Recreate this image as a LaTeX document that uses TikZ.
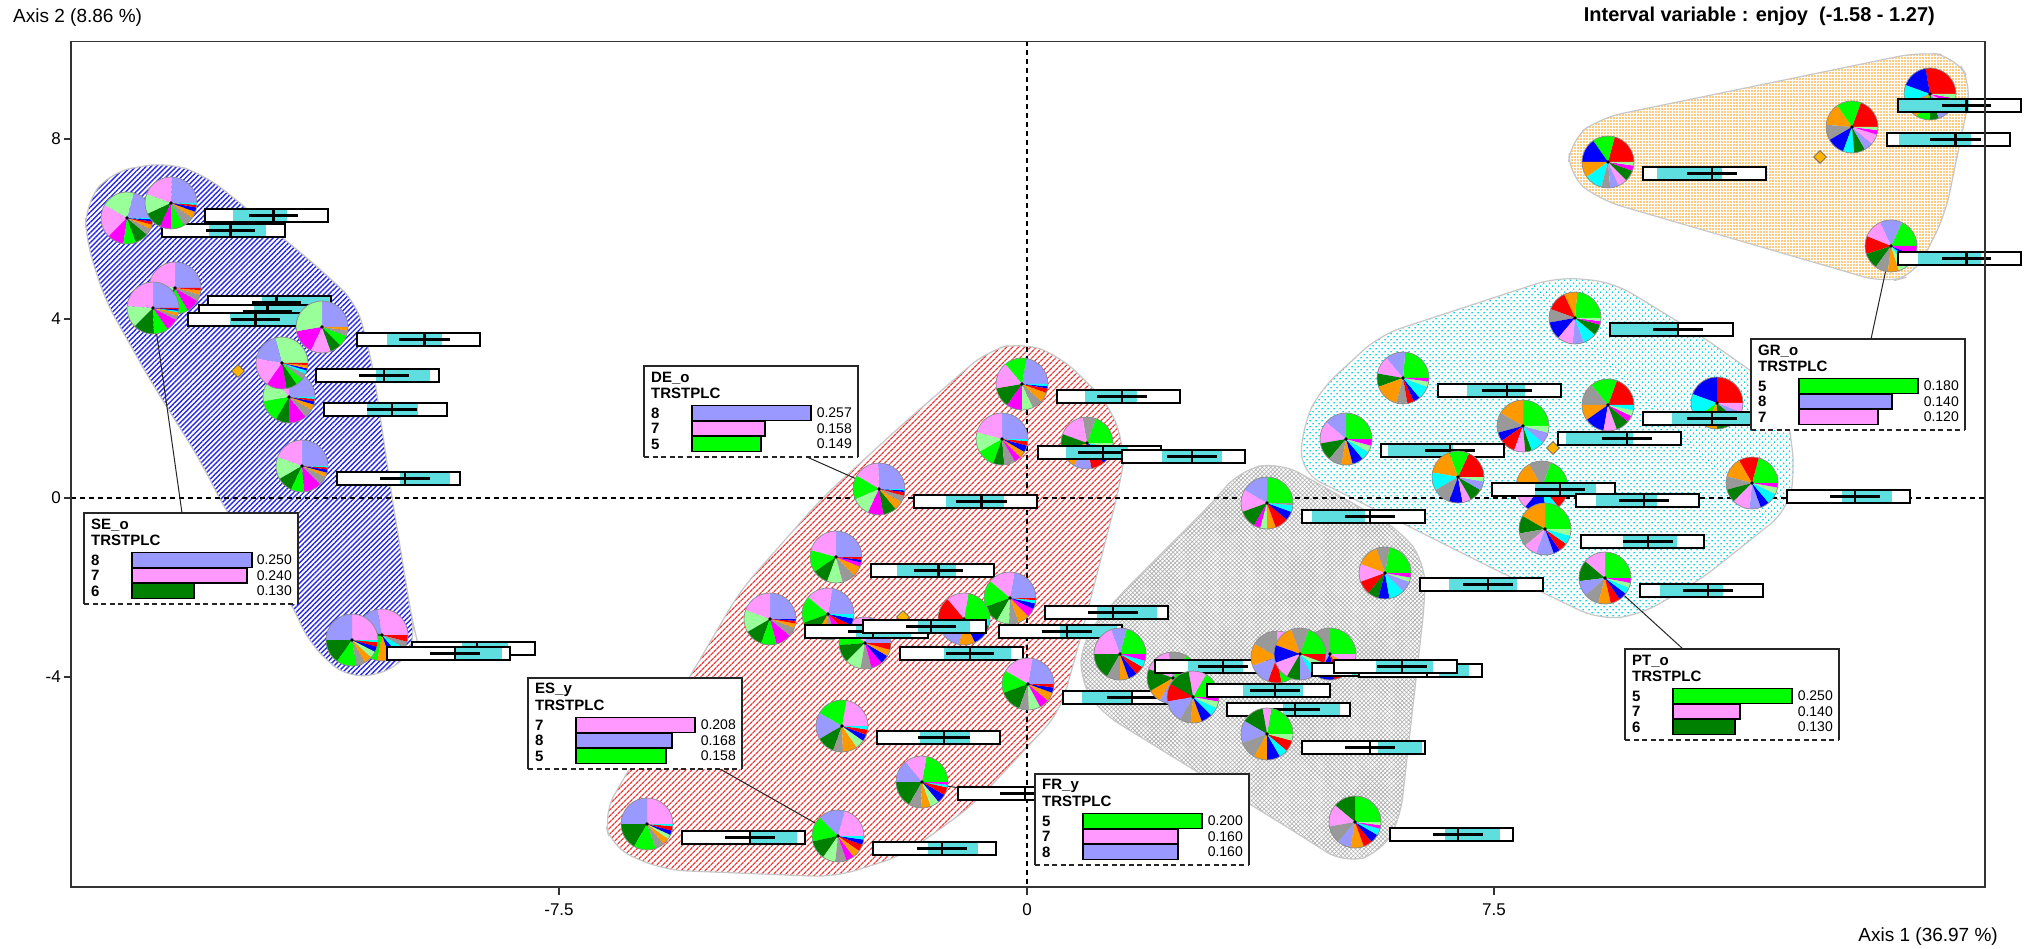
\documentclass[tikz,border=0pt]{standalone}
\usepackage{fontspec}
\setmainfont{Liberation Sans}
\usetikzlibrary{patterns.meta,shapes.geometric}
\definecolor{pw}{RGB}{153,153,255}
\definecolor{pk}{RGB}{255,153,255}
\definecolor{lg}{RGB}{153,255,153}
\definecolor{gn}{RGB}{0,255,0}
\definecolor{dg}{RGB}{0,128,0}
\definecolor{mg}{RGB}{255,0,255}
\definecolor{gy}{RGB}{153,153,153}
\definecolor{or}{RGB}{255,153,0}
\definecolor{rd}{RGB}{255,0,0}
\definecolor{bl}{RGB}{0,0,255}
\definecolor{cy}{RGB}{0,255,255}
\definecolor{icyan}{RGB}{94,222,222}
\definecolor{diamc}{RGB}{255,180,0}
\definecolor{hatchblue}{RGB}{40,40,230}
\definecolor{hatchred}{RGB}{240,50,50}
\definecolor{hatchcyan}{RGB}{0,215,230}
\definecolor{hatchor}{RGB}{255,150,0}

\tikzset{
  pieedge/.style={draw=black!45, line width=0.7},
  hullline/.style={draw=black!22, line width=1.2, rounded corners=22},
  boxline/.style={draw=black!85, line width=1.4},
  leader/.style={draw=black!85, line width=1},
  axisdash/.style={draw=black, line width=1.2, dash pattern=on 5pt off 4pt},
  lbtitle/.style={inner sep=0, font=\fontsize{15}{15}\bfseries},
  lbval/.style={inner sep=0, font=\fontsize{14}{14}\selectfont},
  ticklab/.style={inner sep=0, font=\fontsize{17}{17}\selectfont},
  diam/.style={diamond, draw=black!60, fill=diamc, minimum width=13, minimum height=13, inner sep=0, line width=0.8},
}

\newcommand\mypie[2]{%
  \gdef\curang{0}%
  \foreach \c/\e in {#2}{%
    \fill[fill=\c] (#1) -- ++(-\curang:26) arc[start angle=-\curang, end angle=-\e, radius=26] -- cycle;
    \xdef\curang{\e}%
  }%
  \draw[pieedge] (#1) circle[radius=26];
  \fill[black] (#1) circle[radius=1.8];
}

\newcommand\intbox[5]{%
  \begin{scope}[shift={(#1)}]
    \fill[white] (0,0) rectangle (123,13);
    \fill[icyan] (#2,0) rectangle (#3,13);
    \draw[line width=2.4] (#4,6.5) -- (#5,6.5);
    \draw[line width=2.4] ({(#4+#5)/2},-1) -- ({(#4+#5)/2},14);
    \draw[line width=1.4] (0,0) rectangle (123,13);
  \end{scope}}

\newcommand\lblbox[4]{%
  \begin{scope}[shift={(#2)}]
    \fill[white] (0,0) rectangle (214,91);
    \draw[boxline] (0,91) -- (0,0) -- (214,0) -- (214,91);
    \draw[boxline, dash pattern=on 5pt off 3.5pt] (0,91) -- (214,91);
    \node[lbtitle, anchor=west] (#1n) at (7,12) {#3};
    \node[lbtitle, anchor=west] (#1v) at (7,27) {TRSTPLC};
    \foreach \d/\c/\v/\l [count=\i] in {#4}{
      \node[lbtitle, anchor=west] (#1d\i) at (7,31.5+15.5*\i) {\d};
      \draw[line width=1.3, fill=\c] (48,24+15.5*\i) rectangle ++(\l,15);
      \node[lbval, anchor=east] (#1p\i) at (208,31.5+15.5*\i) {\v};
    }
  \end{scope}}

\begin{document}
\begin{tikzpicture}[x=1pt,y=-1pt]
\useasboundingbox (0,0) rectangle (2035,949);
\fill[white] (0,0) rectangle (2035,949);

% ---------- hulls ----------
\draw[hullline, pattern={Lines[angle=45,distance=3.6pt,line width=1.4pt]}, pattern color=hatchblue]
 (85,205) -- (110,172) -- (167,162) -- (205,175) -- (245,207) -- (312,262) -- (357,303) -- (373,367) -- (392,497) -- (412,620) -- (417,640) -- (400,668) -- (350,680) -- (310,645) -- (290,600) -- (227,513) -- (200,460) -- (150,380) -- (105,300) -- (86,240) -- cycle;
\draw[hullline, pattern={Lines[angle=45,distance=4pt,line width=1.3pt]}, pattern color=hatchred]
 (1021,342) -- (1060,356) -- (1110,405) -- (1125,450) -- (1120,485) -- (1080,640) -- (1060,712) -- (973,805) -- (904,855) -- (835,877) -- (664,870) -- (612,848) -- (603,815) -- (629,769) -- (688,680) -- (740,591) -- (822,498) -- (904,423) -- (987,351) -- cycle;
\draw[hullline, pattern={Hatch[angle=45,distance=3pt,line width=0.6pt]}, pattern color=black!32]
 (1240,470) -- (1280,462) -- (1400,530) -- (1425,562) -- (1425,600) -- (1400,820) -- (1382,852) -- (1345,864) -- (1300,835) -- (1100,712) -- (1080,682) -- (1082,640) -- (1117,598) -- (1215,500) -- cycle;
\draw[hullline, pattern={Dots[distance=4pt,angle=45,radius=1pt]}, pattern color=hatchcyan]
 (1557,277) -- (1613,282) -- (1700,335) -- (1785,395) -- (1795,470) -- (1788,510) -- (1700,580) -- (1640,615) -- (1600,620) -- (1500,572) -- (1420,532) -- (1300,472) -- (1303,425) -- (1320,390) -- (1380,335) -- cycle;
\draw[hullline, pattern={Dots[distance=3pt,radius=0.9pt]}, pattern color=hatchor]
 (1570,140) -- (1600,118) -- (1920,52) -- (1955,56) -- (1972,85) -- (1945,215) -- (1915,275) -- (1885,283) -- (1600,200) -- (1568,175) -- cycle;

% ---------- axes ----------
\coordinate (ytop) at (1027,41.5);
\coordinate (ybot) at (1027,887);
\coordinate (xl) at (71,498);
\coordinate (xr) at (1985,498);
\draw[axisdash] (ytop) -- (ybot);
\draw[axisdash] (xl) -- (xr);

% ---------- point coordinates ----------
\coordinate (B1) at (127,218); \coordinate (B2) at (171,203); \coordinate (B4) at (175,288);
\coordinate (B3) at (153,308); \coordinate (B5) at (322,327); \coordinate (B6) at (282,363);
\coordinate (B7) at (289,397); \coordinate (B8) at (302,466); \coordinate (B10) at (382,635);
\coordinate (B9) at (352,640);
\coordinate (R1) at (879,489); \coordinate (R2) at (1022,384); \coordinate (R3) at (1002,439);
\coordinate (R4) at (1087,443); \coordinate (R5) at (836,557); \coordinate (R6) at (770,619);
\coordinate (R7) at (828,614); \coordinate (R8) at (865,643); \coordinate (R9) at (964,619);
\coordinate (R10) at (1010,598); \coordinate (R11) at (1028,684); \coordinate (R12) at (842,726);
\coordinate (R13) at (922,782); \coordinate (R14) at (647,824); \coordinate (R15) at (838,836);
\coordinate (G1) at (1267,503); \coordinate (G2) at (1385,573); \coordinate (G3) at (1120,654);
\coordinate (G4) at (1173,678); \coordinate (G5) at (1193,697); \coordinate (G6a) at (1277,657);
\coordinate (G6b) at (1300,654); \coordinate (G6c) at (1330,654); \coordinate (G7) at (1267,734);
\coordinate (G8) at (1355,822);
\coordinate (C1) at (1575,318); \coordinate (C2) at (1403,378); \coordinate (C3) at (1608,405);
\coordinate (C4) at (1523,426); \coordinate (C5) at (1717,403); \coordinate (C6) at (1346,439);
\coordinate (C7) at (1458,477); \coordinate (C8) at (1542,487); \coordinate (C9) at (1752,483);
\coordinate (C10) at (1545,529); \coordinate (C11) at (1605,578);
\coordinate (O1) at (1930,94); \coordinate (O2) at (1852,127); \coordinate (O3) at (1608,162);
\coordinate (O4) at (1891,246);

% ---------- leader lines ----------
\coordinate (SEa) at (182,513);
\coordinate (DEa) at (807,457);
\coordinate (ESa) at (720,769);
\coordinate (FRa) at (1035,800);
\coordinate (GRa) at (1871,339);
\coordinate (PTa) at (1683,649);
\draw[leader] (SEa) -- (B3);
\draw[leader] (DEa) -- (R1);
\draw[leader] (ESa) -- (R15);
\draw[leader] (FRa) -- (R13);
\draw[leader] (GRa) -- (O4);
\draw[leader] (PTa) -- (C11);

% ---------- centroids ----------
\node[diam] (DB) at (238,371) {};
\node[diam] (DR) at (903,617) {};
\node[diam] (DG) at (1267,658) {};
\node[diam] (DC) at (1553,448) {};
\node[diam] (DO) at (1820,157) {};

% ---------- blue group ----------
\mypie{B1}{pw/75,lg/150,pk/225,mg/262,gn/290,dg/320,gy/335,or/345,rd/352,bl/357,cy/360}
\intbox{162,224}{47}{104}{44}{93}
\mypie{B2}{pw/88,pk/160,lg/205,dg/245,mg/270,gn/300,gy/325,or/340,bl/350,rd/356,cy/360}
\intbox{205,209}{28}{82}{44}{93}
\mypie{B4}{pw/90,pk/170,lg/220,dg/260,gn/300,mg/330,gy/345,or/355,rd/360}
\intbox{208,296}{54}{122}{44}{93}
\intbox{199,305}{55}{120}{44}{93}
\mypie{B3}{pw/90,pk/176,lg/225,dg/272,gn/305,mg/333,gy/342,or/350,cy/354,bl/357,rd/360}
\intbox{188,313}{42}{120}{43}{92}
\mypie{B5}{pw/90,lg/190,mg/245,pk/290,dg/315,gn/340,gy/352,or/360}
\intbox{357,333}{30}{85}{42}{93}
\mypie{B7}{pw/88,pk/130,lg/190,gn/240,dg/270,mg/310,gy/330,or/343,bl/350,rd/356,cy/360}
\mypie{B6}{lg/105,pw/170,pk/235,mg/280,dg/305,gn/322,gy/335,cy/343,bl/348,or/355,rd/360}
\intbox{316,369}{60}{114}{43}{93}
\intbox{324,403}{43}{94}{43}{93}
\mypie{B8}{pw/90,pk/160,lg/210,dg/245,gn/275,mg/315,gy/335,or/345,bl/352,rd/357,cy/360}
\intbox{337,472}{63}{113}{43}{93}
\mypie{B10}{pk/100,pw/160,dg/200,gn/260,or/290,bl/310,cy/330,gy/345,rd/360}
\intbox{412,642}{50}{96}{40}{90}
\mypie{B9}{pk/90,pw/180,dg/235,gn/280,gy/300,or/318,lg/333,bl/345,rd/355,cy/360}
\intbox{387,647}{68}{115}{43}{93}

% ---------- red group ----------
\mypie{R2}{pw/80,gn/130,pk/190,dg/235,mg/270,lg/295,gy/318,or/340,rd/350,bl/355,cy/360}
\intbox{1057,390}{28}{80}{40}{90}
\mypie{R3}{pw/90,pk/165,lg/210,gn/250,dg/275,gy/300,mg/315,or/330,bl/345,rd/355,cy/360}
\mypie{R4}{gn/70,gy/100,pk/160,dg/200,or/240,pw/280,rd/310,bl/335,cy/350,lg/360}
\intbox{1038,446}{28}{90}{40}{90}
\intbox{1122,450}{40}{100}{45}{95}
\mypie{R1}{pw/92,pk/149,gn/203,lg/245,mg/280,dg/310,or/330,gy/345,rd/353,bl/357,cy/360}
\intbox{914,495}{32}{90}{42}{93}
\mypie{R5}{pw/90,pk/165,gn/215,dg/250,lg/285,gy/315,or/338,mg/348,bl/354,rd/360}
\intbox{871,564}{26}{85}{43}{92}
\mypie{R10}{pw/80,pk/140,gn/200,dg/240,lg/268,gy/290,or/315,mg/335,bl/348,cy/355,rd/360}
\intbox{1045,606}{52}{112}{43}{93}
\mypie{R6}{pw/90,pk/160,lg/210,dg/250,gn/285,mg/320,gy/340,or/350,rd/356,bl/360}
\mypie{R8}{pw/80,pk/140,gn/185,dg/225,lg/260,gy/285,mg/310,bl/330,or/345,rd/360}
\mypie{R7}{pw/80,pk/140,gn/200,dg/240,or/262,gy/290,mg/315,rd/335,bl/350,cy/360}
\intbox{805,625}{51}{106}{43}{93}
\mypie{R9}{gn/80,pk/130,rd/190,gy/210,pw/260,or/295,bl/325,dg/345,cy/360}
\intbox{863,620}{55}{107}{43}{93}
\intbox{999,625}{61}{118}{43}{93}
\intbox{900,647}{44}{111}{46}{94}
\mypie{R11}{pw/80,pk/150,gn/200,dg/250,gy/272,lg/298,mg/320,or/340,bl/352,rd/360}
\intbox{1063,691}{19}{70}{44}{94}
\mypie{R12}{pk/80,gn/150,pw/210,dg/250,gy/272,or/305,lg/325,bl/340,rd/352,cy/360}
\intbox{877,731}{43}{93}{41}{93}
\mypie{R13}{gn/80,pk/130,pw/180,dg/240,gy/268,or/290,lg/310,bl/330,rd/348,cy/354,mg/360}
\intbox{958,787}{80}{123}{42}{92}
\mypie{R14}{pk/90,pw/180,dg/240,gn/290,gy/310,or/325,lg/335,bl/345,rd/355,cy/360}
\intbox{682,831}{68}{115}{43}{93}
\mypie{R15}{pk/75,pw/135,gn/192,dg/235,lg/264,gy/289,mg/307,or/325,rd/340,bl/352,cy/360}
\intbox{873,842}{55}{105}{44}{94}

% ---------- grey group ----------
\mypie{G1}{gn/90,pw/150,pk/200,dg/240,mg/255,lg/270,or/290,rd/320,bl/340,cy/355,gy/360}
\intbox{1302,510}{10}{63}{43}{93}
\mypie{G2}{gn/80,gy/110,or/160,pk/200,rd/230,dg/255,bl/280,cy/315,pw/340,lg/350,mg/360}
\intbox{1420,578}{29}{97}{43}{93}
\mypie{G3}{gn/75,pw/110,pk/180,dg/240,gy/270,or/290,bl/310,rd/330,cy/345,mg/360}
\mypie{G4}{gn/60,gy/100,pk/160,dg/210,or/240,pw/290,bl/320,cy/340,rd/360}
\intbox{1155,660}{33}{88}{43}{93}
\mypie{G5}{gn/60,pk/100,dg/150,rd/190,pw/240,gy/265,or/290,bl/315,cy/335,lg/350,mg/360}
\intbox{1207,684}{36}{96}{43}{93}
\intbox{1227,703}{56}{113}{43}{93}
\mypie{G6a}{pk/90,gy/150,or/200,pw/250,rd/280,gn/360}
\mypie{G6c}{gn/90,gy/150,pw/240,bl/280,rd/300,or/330,pk/360}
\mypie{G6b}{gn/70,gy/110,or/160,bl/200,pk/240,dg/270,pw/300,cy/320,lg/340,rd/360}
\intbox{1312,663}{40}{100}{43}{93}
\intbox{1359,664}{80}{110}{43}{93}
\intbox{1334,660}{42}{99}{43}{93}
\mypie{G7}{gn/80,pk/100,dg/150,pw/200,gy/240,or/270,bl/300,cy/320,rd/345,lg/360}
\intbox{1302,741}{76}{120}{43}{93}
\mypie{G8}{gn/90,dg/140,pk/190,gy/230,pw/260,or/290,rd/310,bl/330,cy/345,mg/353,lg/360}
\intbox{1390,828}{55}{110}{43}{93}

% ---------- cyan group ----------
\mypie{C1}{gn/85,or/115,rd/160,gy/190,bl/230,pk/265,pw/290,cy/320,dg/345,mg/353,lg/360}
\intbox{1610,323}{0}{67}{43}{93}
\mypie{C2}{gn/85,pw/130,pk/170,dg/200,or/255,gy/280,rd/295,bl/310,cy/340,lg/352,mg/360}
\intbox{1438,384}{29}{87}{44}{94}
\mypie{C5}{rd/90,bl/160,cy/215,gn/240,or/270,dg/320,pw/340,pk/360}
\mypie{C3}{rd/70,gn/130,gy/180,or/215,bl/260,pk/290,dg/320,mg/335,lg/348,cy/360}
\intbox{1643,412}{29}{115}{44}{94}
\mypie{C4}{gn/90,or/150,gy/195,bl/215,rd/250,pk/275,dg/290,cy/320,pw/345,lg/360}
\intbox{1558,432}{8}{75}{44}{94}
\mypie{C6}{gn/90,pw/140,pk/190,dg/230,gy/260,or/285,bl/310,cy/330,lg/345,mg/360}
\intbox{1381,444}{7}{72}{44}{94}
\mypie{C7}{rd/65,gn/110,or/170,cy/210,gy/250,bl/280,pk/300,dg/330,pw/350,lg/360}
\mypie{C8}{gn/70,gy/120,or/170,pk/230,bl/280,cy/310,rd/340,pw/360}
\intbox{1492,483}{43}{104}{43}{93}
\intbox{1576,494}{20}{81}{43}{93}
\mypie{C9}{gn/75,rd/120,or/165,gy/195,dg/225,pk/265,pw/290,bl/310,cy/335,lg/350,mg/360}
\intbox{1787,490}{55}{105}{43}{93}
\mypie{C10}{gn/90,or/150,dg/190,gy/220,pk/250,pw/290,bl/305,rd/325,cy/345,lg/360}
\intbox{1581,535}{42}{96}{42}{92}
\mypie{C11}{gn/90,pk/140,dg/187,pw/222,gy/255,or/283,rd/305,bl/323,cy/338,lg/349,mg/360}
\intbox{1640,584}{20}{83}{43}{93}

% ---------- orange group ----------
\mypie{O1}{rd/100,bl/160,cy/200,gy/215,or/240,gn/270,dg/290,pw/315,pk/335,mg/350,lg/360}
\intbox{1898,99}{0}{71}{44}{93}
\mypie{O2}{rd/70,gn/125,or/175,gy/210,bl/250,cy/275,dg/300,pw/320,pk/343,mg/353,lg/360}
\intbox{1887,133}{12}{84}{43}{94}
\mypie{O3}{rd/75,gn/125,bl/180,or/215,cy/255,gy/275,pw/295,pk/315,dg/340,mg/352,lg/360}
\intbox{1643,167}{14}{79}{44}{94}
\mypie{O4}{gn/65,pw/115,pk/158,rd/198,dg/234,gy/263,or/288,lg/306,cy/324,bl/338,mg/360}
\intbox{1898,252}{20}{83}{44}{93}

% ---------- label boxes ----------
\lblbox{SE}{84,513}{SE\_o}{8/pw/0.250/120, 7/pk/0.240/115, 6/dg/0.130/62}
\lblbox{DE}{644,366}{DE\_o}{8/pw/0.257/119, 7/pk/0.158/73, 5/gn/0.149/69}
\lblbox{ES}{528,678}{ES\_y}{7/pk/0.208/119, 8/pw/0.168/96, 5/gn/0.158/90}
\lblbox{FR}{1035,774}{FR\_y}{5/gn/0.200/119, 7/pk/0.160/95, 8/pw/0.160/95}
\lblbox{GR}{1751,339}{GR\_o}{5/gn/0.180/119, 8/pw/0.140/93, 7/pk/0.120/79}
\lblbox{PT}{1625,649}{PT\_o}{5/gn/0.250/119, 7/pk/0.140/67, 6/dg/0.130/62}

% ---------- frame, ticks ----------
\draw[draw=black!80, line width=1.5] (71,41.5) rectangle (1985,887);
\foreach \yy/\lab in {139/8, 319/4, 498/0, 677/-4}{
  \draw[draw=black!80, line width=1.3] (71,\yy) -- (64,\yy);
  \node[ticklab, anchor=east] at (61,\yy) {\lab};
}
\foreach \xx/\lab in {559/-7.5, 1027/0, 1494/7.5}{
  \draw[draw=black!80, line width=1.3] (\xx,887) -- (\xx,895);
  \node[ticklab] at (\xx,910) {\lab};
}

% ---------- titles ----------
\node[inner sep=0, anchor=west, font=\fontsize{19}{19}\selectfont] (ax2) at (13,18) {Axis 2 (8.86 \%)};
\node[inner sep=0, anchor=east, font=\fontsize{20}{20}\bfseries] (ttl) at (1935,16) {Interval variable : enjoy\ \ (-1.58 - 1.27)};
\node[inner sep=0, anchor=east, font=\fontsize{19}{19}\selectfont] (ax1) at (1998,937) {Axis 1 (36.97 \%)};
\end{tikzpicture}
\end{document}
